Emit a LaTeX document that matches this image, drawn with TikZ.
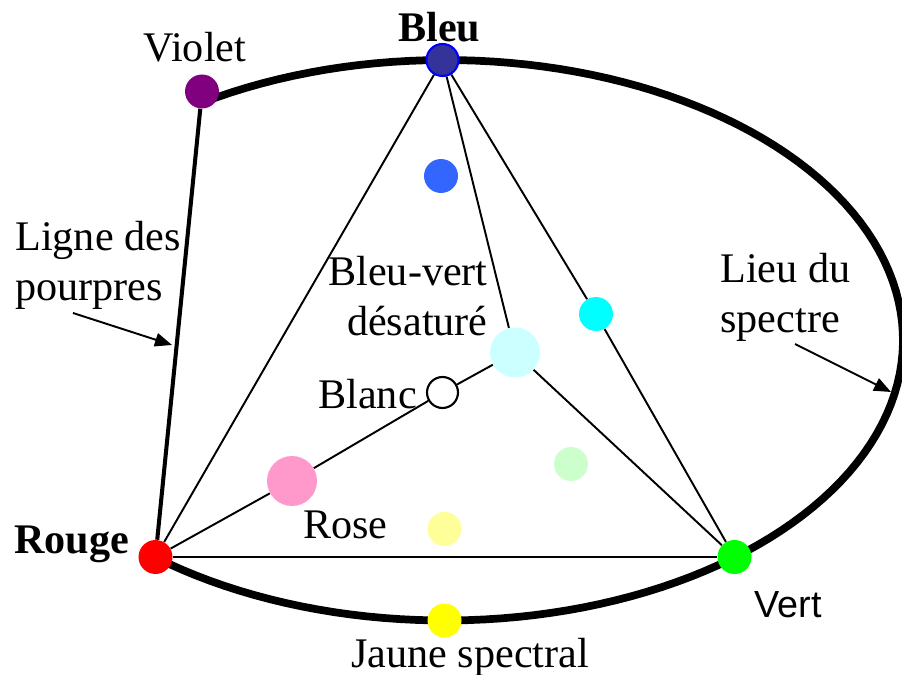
\documentclass[tikz,border=0pt]{standalone}
\usepackage{fontspec}
\setmainfont{Liberation Serif}
\newfontfamily\arialfont{Liberation Sans}
\usepackage{tikz}
\usetikzlibrary{arrows.meta, backgrounds}

\begin{document}
\begin{tikzpicture}[
        x=0.02cm, y=-0.02cm,
        dot/.style={circle, minimum size=0.68cm, inner sep=0pt},
        bigdot/.style={circle, minimum size=1cm, inner sep=0pt},
        lbl/.style={inner sep=0pt, font=\fontsize{24}{28.5}\selectfont},
        link/.style={black, line width=1.1pt},
        purple line/.style={black, line width=2.3pt},
        locus/.style={black, line width=4.4pt},
        pointer/.style={black, line width=1.1pt, -{Triangle[length=0.34cm, width=0.27cm]}}
    ]
        \useasboundingbox (0,0) rectangle (902,675);

        % Primaries and spectral colours
        \node[dot, fill={rgb,255:red,128;green,0;blue,128}] (violet) at (202, 91.5) {};
        \node[dot, fill={rgb,255:red,51;green,51;blue,153}, draw={rgb,255:red,0;green,0;blue,255}, line width=1.2pt, minimum size=0.64cm] (bleu) at (442.5, 60) {};
        \node[dot, fill=red] (rouge) at (155.5, 557) {};
        \node[dot, fill={rgb,255:red,0;green,255;blue,0}] (vert) at (734.5, 557) {};
        \node[dot, fill={rgb,255:red,255;green,255;blue,0}] (jaune) at (444.5, 620.5) {};
        \node[dot, fill={rgb,255:red,0;green,255;blue,255}] (cyan) at (596, 314) {};

        % Mixtures
        \node[dot, fill={rgb,255:red,51;green,102;blue,255}] (bleumoyen) at (441, 176) {};
        \node[bigdot, fill={rgb,255:red,204;green,255;blue,255}] (bleuvert) at (515, 352.5) {};
        \node[dot, fill=white, draw=black, line width=1.2pt, minimum size=0.62cm] (blanc) at (442.5, 392.5) {};
        \node[bigdot, fill={rgb,255:red,255;green,153;blue,204}] (rose) at (292, 481) {};
        \node[dot, fill={rgb,255:red,204;green,255;blue,204}] (vertpale) at (571, 464) {};
        \node[dot, fill={rgb,255:red,255;green,255;blue,153}] (jaunepale) at (444.5, 529) {};

        % Spectrum locus and line of purples
        \begin{scope}[on background layer]
            \draw[locus, line cap=round] plot[domain=122:-129.4, samples=120] ({445+458*cos(\x)}, {340.25-280.25*sin(\x)});
        \end{scope}
        \draw[purple line] (violet) -- (rouge);

        % Triangle
        \draw[link] (rouge) -- (bleu);
        \draw[link] (rouge) -- (vert);
        \draw[link] (bleu) -- (cyan) -- (vert);
        \draw[link] (bleu) -- (bleuvert) -- (vert);
        \draw[link] (rouge) -- (rose) -- (blanc) -- (bleuvert);

        % Labels
        \node[lbl, anchor=base west] (tviolet) at (143, 62) {Violet};
        \node[lbl, anchor=base west] (tbleu) at (398, 42) {\textbf{Bleu}};
        \node[lbl, anchor=base west] (trouge) at (14, 553) {\textbf{Rouge}};
        \node[lbl, anchor=base west] (trose) at (303, 538) {Rose};
        \node[lbl, anchor=base west, font=\arialfont\fontsize{21.5}{26}\selectfont] (tvert) at (754, 617) {Vert};
        \node[lbl, anchor=base west] (tjaune) at (351, 667) {Jaune spectral};
        \node[lbl, anchor=base west] (tblanc) at (318, 408) {Blanc};
        \node[lbl, anchor=north east, align=right] (tbleuvert) at (488, 256) {Bleu-vert\\désaturé};
        \node[lbl, anchor=north west, align=left] (tpourpres) at (15, 221) {Ligne des\\pourpres};
        \node[lbl, anchor=north west, align=left] (tlieu) at (720, 253) {Lieu du\\spectre};

        % Pointers
        \coordinate (pourpres start) at (73, 313);
        \coordinate (pourpres end) at (172, 345);
        \coordinate (lieu start) at (795, 344);
        \coordinate (lieu end) at (891, 392);
        \draw[pointer] (pourpres start) -- (pourpres end);
        \draw[pointer] (lieu start) -- (lieu end);
    \end{tikzpicture}
\end{document}
